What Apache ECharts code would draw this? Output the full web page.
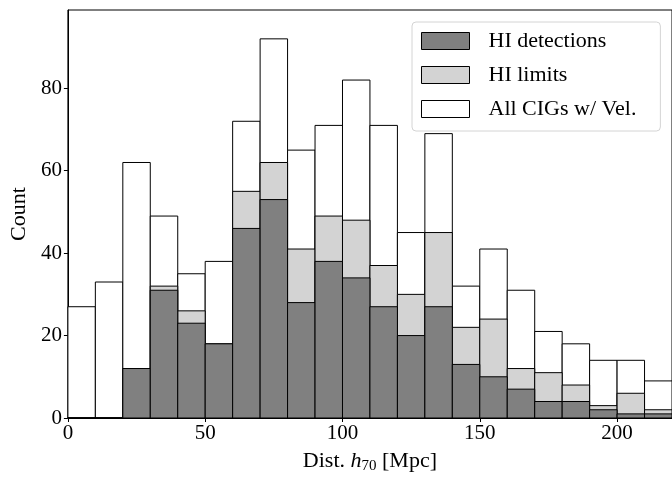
<!DOCTYPE html>
<html>
<head>
<meta charset="utf-8">
<script src="https://cdn.jsdelivr.net/npm/echarts@6/dist/echarts.min.js"></script>
<style>
  html, body { margin: 0; padding: 0; background: #fff; }
  #chart { width: 672px; height: 479px; }
</style>
</head>
<body>
<div id="chart"></div>
<script>
// bin left edges (Mpc), bins are 10 wide
var binStarts = [0, 10, 20, 30, 40, 50, 60, 70, 80, 90, 100, 110, 120, 130, 140, 150, 160, 170, 180, 190, 200, 210];
var binWidth = 10;
var allCigs = [27, 33, 62, 49, 35, 38, 72, 92, 65, 71, 82, 71, 45, 69, 32, 41, 31, 21, 18, 14, 14, 9];
var hiLimits = [0, 0, 12, 32, 26, 18, 55, 62, 41, 49, 48, 37, 30, 45, 22, 24, 12, 11, 8, 3, 6, 2];
var hiDetections = [0, 0, 12, 31, 23, 18, 46, 53, 28, 38, 34, 27, 20, 27, 13, 10, 7, 4, 4, 2, 1, 1];
var xTicks = [0, 50, 100, 150, 200];

var font = '"Liberation Serif", "DejaVu Serif", serif';

function toBins(counts) {
    return binStarts.map(function (s, i) { return [s, s + binWidth, counts[i]]; });
}

function binRenderer(color) {
    return function (params, api) {
        var p0 = api.coord([api.value(0), api.value(2)]);
        var p1 = api.coord([api.value(1), 0]);
        return {
            type: 'rect',
            shape: { x: p0[0], y: p0[1], width: p1[0] - p0[0], height: p1[1] - p0[1] },
            style: { fill: color, stroke: '#000', lineWidth: 1 }
        };
    };
}

var chart = echarts.init(document.getElementById('chart'));
chart.setOption({
    animation: false,
    backgroundColor: '#fff',
    textStyle: { fontFamily: font },
    grid: {
        left: 67, right: 0, top: 10, bottom: 56,
        show: true, borderColor: '#000', borderWidth: 1
    },
    legend: {
        orient: 'vertical',
        left: 412, top: 22,
        padding: [8, 24, 11, 9],
        itemWidth: 48, itemHeight: 17, itemGap: 12,
        backgroundColor: 'rgba(255,255,255,0.8)',
        borderColor: '#d4d4d4', borderWidth: 1, borderRadius: 4,
        textStyle: { fontFamily: font, fontSize: 22, color: '#000', padding: [0, 0, 0, 14] },
        data: [
            { name: 'HI detections', icon: 'rect', itemStyle: { color: '#808080', borderColor: '#000', borderWidth: 1 } },
            { name: 'HI limits', icon: 'rect', itemStyle: { color: '#d3d3d3', borderColor: '#000', borderWidth: 1 } },
            { name: 'All CIGs w/ Vel.', icon: 'rect', itemStyle: { color: '#fff', borderColor: '#000', borderWidth: 1 } }
        ]
    },
    xAxis: {
        type: 'value', min: 0, max: 220, interval: 50,
        name: '{n|Dist. }{i|h}{s|70}{n| [Mpc]}',
        nameLocation: 'middle', nameGap: 31,
        nameTextStyle: {
            rich: {
                n: { fontFamily: font, fontSize: 22, color: '#000' },
                i: { fontFamily: font, fontSize: 22, fontStyle: 'italic', color: '#000' },
                s: { fontFamily: font, fontSize: 15, color: '#000', padding: [10, 0, 0, 0] }
            }
        },
        axisLine: { show: true, lineStyle: { color: '#000', width: 1 } },
        axisTick: { show: true, inside: false, length: 4, lineStyle: { color: '#000' }, customValues: xTicks },
        axisLabel: { color: '#000', fontSize: 21, fontFamily: font, margin: 5, customValues: xTicks },
        splitLine: { show: false }
    },
    yAxis: {
        type: 'value', min: 0, max: 99, interval: 20,
        name: 'Count', nameLocation: 'middle', nameGap: 36,
        nameTextStyle: { fontFamily: font, fontSize: 22, color: '#000' },
        axisLine: { show: true, lineStyle: { color: '#000', width: 1 } },
        axisTick: { show: true, inside: false, length: 4, lineStyle: { color: '#000' } },
        axisLabel: { color: '#000', fontSize: 21, fontFamily: font, margin: 6, showMaxLabel: false },
        splitLine: { show: false }
    },
    series: [
        { name: 'All CIGs w/ Vel.', type: 'custom', renderItem: binRenderer('#fff'), data: toBins(allCigs), itemStyle: { color: '#fff', borderColor: '#000' } },
        { name: 'HI limits', type: 'custom', renderItem: binRenderer('#d3d3d3'), data: toBins(hiLimits), itemStyle: { color: '#d3d3d3', borderColor: '#000' } },
        { name: 'HI detections', type: 'custom', renderItem: binRenderer('#808080'), data: toBins(hiDetections), itemStyle: { color: '#808080', borderColor: '#000' } }
    ]
});
</script>
</body>
</html>
